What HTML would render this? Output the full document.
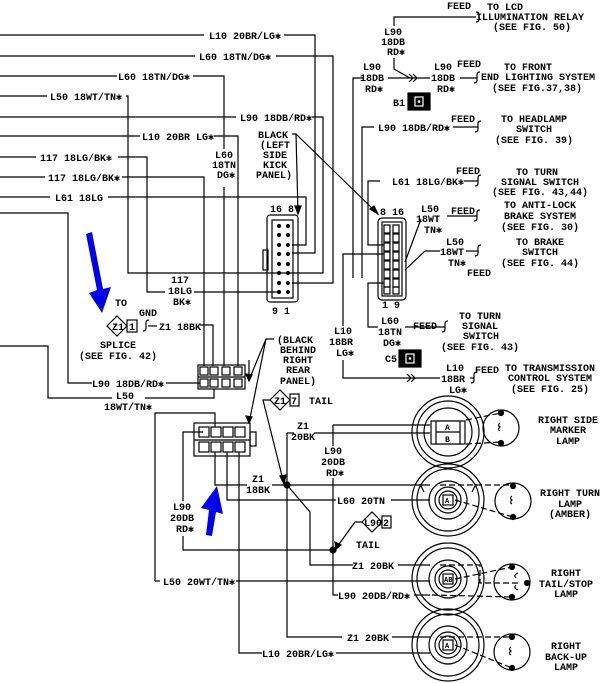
<!DOCTYPE html>
<html><head><meta charset="utf-8"><style>
body{margin:0;background:#fff}
svg{display:block}
text{font-family:"Liberation Mono",monospace;font-size:10px;font-weight:bold;fill:#000}
.c{text-anchor:middle}
line,polyline,path,rect,circle{stroke:#000;stroke-width:1.2;fill:none}
.f{fill:#000}
.w{stroke:#fff;fill:none}
.wf{fill:#fff;stroke:none}
</style></head><body>
<svg width="604" height="683" viewBox="0 0 604 683" xmlns="http://www.w3.org/2000/svg">
<!-- top-left wires -->
<polyline points="0,35 204,35"/><text x="209" y="39">L10 20BR/LG✱</text><polyline points="284,35 315,35 315,253 292,253"/>
<polyline points="0,56 195,56"/><text x="199" y="60">L60 18TN/DG✱</text><polyline points="276,56 333,56 333,283 292,283"/>
<polyline points="0,76 117,76"/><text x="118" y="80">L60 18TN/DG✱</text><polyline points="193,76 224,76 224,149"/>
<text class="c" x="224" y="158">L60</text><text class="c" x="224" y="168">18TN</text><text class="c" x="226" y="178">DG✱</text>
<polyline points="224,187 224,366"/>
<polyline points="0,96 47,96"/><text x="50" y="100">L50 18WT/TN✱</text><polyline points="126,96 128,96 128,273 292,273"/>
<polyline points="0,117 236,117"/><text x="240" y="121">L90 18DB/RD✱</text><polyline points="312,117 323,117 323,273 292,273"/>
<polyline points="0,136 140,136"/><text x="142" y="140">L10 20BR LG✱</text><polyline points="214,136 238,136 238,366"/>
<polyline points="0,157 36,157"/><text x="40" y="161">117 18LG/BK✱</text><polyline points="118,157 147,157 147,292 165,292"/>
<text class="c" x="180" y="283">117</text><text class="c" x="180" y="294">18LG</text><text class="c" x="182" y="305">BK✱</text>
<polyline points="194,292 280,292"/>
<polyline points="0,177 45,177"/><text x="48" y="181">117 18LG/BK✱</text><polyline points="122,177 204,177 204,366"/>
<polyline points="0,197 50,197"/><text x="55" y="201">L61 18LG</text><polyline points="108,197 306,197 306,245 292,245"/>
<polyline points="0,213 68,213 68,383 92,383"/><text x="92" y="387">L90 18DB/RD✱</text><polyline points="166,383 200,383"/>
<polyline points="0,346 48,346 48,398 112,398"/><text class="c" x="125" y="399">L50</text><text class="c" x="128" y="410">18WT/TN✱</text><polyline points="145,398 214,398 214,389"/>
<!-- left connector -->
<rect x="267" y="215" width="31" height="87" rx="3"/><rect x="272" y="220" width="21" height="78"/>
<rect x="263" y="250" width="5" height="20"/>
<text x="270" y="212">16 8</text><text x="272" y="314">9 1</text>
<g>
<circle class="f" cx="279" cy="226" r="1.5"/><circle class="f" cx="288" cy="226" r="1.5"/>
<circle class="f" cx="279" cy="235" r="1.5"/><circle class="f" cx="288" cy="235" r="1.5"/>
<circle class="f" cx="279" cy="245" r="1.5"/><circle class="f" cx="288" cy="245" r="1.5"/>
<circle class="f" cx="279" cy="254" r="1.5"/><circle class="f" cx="288" cy="254" r="1.5"/>
<circle class="f" cx="279" cy="264" r="1.5"/><circle class="f" cx="288" cy="264" r="1.5"/>
<circle class="f" cx="279" cy="273" r="1.5"/><circle class="f" cx="288" cy="273" r="1.5"/>
<circle class="f" cx="279" cy="283" r="1.5"/><circle class="f" cx="288" cy="283" r="1.5"/>
<circle class="f" cx="279" cy="292" r="1.5"/><circle class="f" cx="288" cy="292" r="1.5"/>
</g>
<text x="258" y="138">BLACK</text><text x="260" y="148">(LEFT</text><text x="263" y="158">SIDE</text><text x="263" y="168">KICK</text><text x="256" y="178">PANEL)</text>
<polyline points="292,134 296,134 298,213"/><path class="f" d="M295,206 L298,214 L301,206Z"/>
<polyline points="296,134 376,212"/><path class="f" d="M370,209 L378,214 L374,206Z"/>
<!-- right connector -->
<rect x="378" y="218" width="28" height="82" rx="4"/><rect x="382" y="222" width="20" height="74"/>
<text x="380" y="215">8 16</text><text x="382" y="308">1 9</text>
<g>
<rect x="384" y="225" width="6" height="8"/><rect x="393" y="225" width="6" height="8"/>
<rect x="384" y="234" width="6" height="8"/><rect x="393" y="234" width="6" height="8"/>
<rect x="384" y="243" width="6" height="8"/><rect x="393" y="243" width="6" height="8"/>
<rect x="384" y="252" width="6" height="8"/><rect x="393" y="252" width="6" height="8"/>
<rect x="384" y="261" width="6" height="8"/><rect x="393" y="261" width="6" height="8"/>
<rect x="384" y="270" width="6" height="8"/><rect x="393" y="270" width="6" height="8"/>
<rect x="384" y="279" width="6" height="8"/><rect x="393" y="279" width="6" height="8"/>
<rect x="384" y="287" width="6" height="7"/><rect x="393" y="287" width="6" height="7"/>
</g>
<!-- right side feeds -->
<text x="447" y="9">FEED</text><text x="487" y="10">TO LCD</text><text class="c" x="530" y="20">ILLUMINATION RELAY</text><text class="c" x="532" y="30">(SEE FIG. 50)</text>
<polyline points="394,26 394,17 476,17"/><path d="M476,12 q3,0 3,3 v4 q0,3 -3,3"/>
<text class="c" x="393" y="35">L90</text><text class="c" x="393" y="45">18DB</text><text class="c" x="396" y="55">RD✱</text>
<polyline points="394,58 394,69 410,78"/>
<text class="c" x="372" y="70">L90</text><text class="c" x="372" y="81">18DB</text><text class="c" x="374" y="92">RD✱</text>
<polyline points="353,278 353,78 364,78"/><polyline points="388,78 430,78"/><path d="M409,74 L413,78 L409,82 M413,74 L417,78 L413,82"/>
<text class="c" x="443" y="70">L90</text><text class="c" x="443" y="81">18DB</text><text class="c" x="446" y="92">RD✱</text>
<polyline points="460,78 477,78"/><path d="M480,72 q-3,0 -3,3 v5 q0,3 -3,3"/>
<text x="457" y="67">FEED</text><text class="c" x="528" y="70">TO FRONT</text><text class="c" x="538" y="80">END LIGHTING SYSTEM</text><text class="c" x="537" y="91">(SEE FIG.37,38)</text>
<text x="393" y="106">B1</text><rect class="f" x="408" y="93" width="22" height="17"/><rect class="w" x="415" y="97" width="8" height="9"/><circle class="wf" cx="419" cy="101.5" r="1.3"/>
<polyline points="362,278 362,127 374,127"/><text x="378" y="131">L90 18DB/RD✱</text><polyline points="453,127 478,127"/><path d="M481,121 q-3,0 -3,3 v5 q0,3 -3,3"/>
<text x="451" y="122">FEED</text><text class="c" x="534" y="122">TO HEADLAMP</text><text class="c" x="534" y="132">SWITCH</text><text class="c" x="534" y="143">(SEE FIG. 39)</text>
<polyline points="384,245 368,245 368,181 380,181"/><text x="392" y="185">L61 18LG/BK✱</text><polyline points="464,181 478,181"/><path d="M481,175 q-3,0 -3,3 v5 q0,3 -3,3"/>
<text x="456" y="174">FEED</text><text class="c" x="537" y="175">TO TURN</text><text class="c" x="540" y="185">SIGNAL SWITCH</text><text class="c" x="540" y="195">(SEE FIG. 43,44)</text>
<text class="c" x="430" y="212">L50</text><text class="c" x="428" y="222">18WT</text><text class="c" x="433" y="233">TN✱</text>
<polyline points="447,216 477,216"/><path d="M480,210 q-3,0 -3,3 v5 q0,3 -3,3"/><polyline points="421,219 405,262"/>
<text x="451" y="214">FEED</text><text class="c" x="540" y="208">TO ANTI-LOCK</text><text class="c" x="540" y="219">BRAKE SYSTEM</text><text class="c" x="540" y="230">(SEE FIG. 30)</text>
<text class="c" x="455" y="245">L50</text><text class="c" x="452" y="255">18WT</text><text class="c" x="457" y="266">TN✱</text>
<polyline points="466,251 478,251"/><path d="M481,245 q-3,0 -3,3 v5 q0,3 -3,3"/><polyline points="440,251 425,251 405,270"/>
<text x="467" y="276">FEED</text><text class="c" x="540" y="245">TO BRAKE</text><text class="c" x="540" y="255">SWITCH</text><text class="c" x="540" y="266">(SEE FIG. 44)</text>
<polyline points="384,283 368,283 368,327 378,327"/><text class="c" x="390" y="324">L60</text><text class="c" x="390" y="335">18TN</text><text class="c" x="392" y="346">DG✱</text>
<polyline points="405,327 445,327"/><path d="M448,321 q-3,0 -3,3 v5 q0,3 -3,3"/><text x="413" y="329">FEED</text>
<text class="c" x="480" y="319">TO TURN</text><text class="c" x="480" y="329">SIGNAL</text><text class="c" x="481" y="339">SWITCH</text><text class="c" x="480" y="350">(SEE FIG. 43)</text>
<text x="385" y="362">C5</text><rect class="f" x="399" y="350" width="22" height="17"/><rect class="w" x="406" y="354" width="8" height="9"/><circle class="wf" cx="410" cy="358.5" r="1.3"/>
<polyline points="384,254 343,254 343,326"/><text class="c" x="343" y="334">L10</text><text class="c" x="341" y="345">18BR</text><text class="c" x="345" y="356">LG✱</text>
<polyline points="343,360 343,378 440,378"/><path d="M407,374 L411,378 L407,382 M411,374 L415,378 L411,382"/>
<text class="c" x="455" y="371">L10</text><text class="c" x="453" y="382">18BR</text><text class="c" x="458" y="393">LG✱</text>
<polyline points="470,378 474,378"/><path d="M477,372 q-3,0 -3,3 v5 q0,3 -3,3"/><text x="475" y="373">FEED</text>
<text class="c" x="550" y="371">TO TRANSMISSION</text><text class="c" x="550" y="381">CONTROL SYSTEM</text><text class="c" x="550" y="392">(SEE FIG. 25)</text>
<!-- splice -->
<text x="115" y="306">TO</text><text x="139" y="316">GND</text>
<path d="M107,326 L117,316 L127,326 L117,336Z"/><text x="112" y="330">Z1</text><rect x="127" y="320" width="10" height="12"/><text x="129" y="330">1</text>
<path d="M149,320 q-3,0 -3,3 v5 q0,3 -3,3"/><polyline points="148,326 157,326"/><text x="159" y="330">Z1 18BK</text><polyline points="200,325 213,325 213,366"/>
<text class="c" x="118" y="348">SPLICE</text><text class="c" x="118" y="359">(SEE FIG. 42)</text>
<!-- connector A -->
<rect x="198" y="365" width="47" height="24"/><line x1="198" y1="377" x2="245" y2="377"/>
<rect x="200" y="367" width="8" height="8"/><rect x="210" y="367" width="8" height="8"/><rect x="222" y="367" width="8" height="8"/><rect x="234" y="367" width="8" height="8"/>
<rect x="200" y="379" width="8" height="8"/><rect x="210" y="379" width="8" height="8"/><rect x="222" y="379" width="8" height="8"/><rect x="234" y="379" width="8" height="8"/>
<polyline points="245,375 249,375 249,360"/>
<text x="277" y="343">(BLACK</text><text x="280" y="353">BEHIND</text><text x="283" y="363">RIGHT</text><text x="286" y="373">REAR</text><text x="280" y="384">PANEL)</text>
<polyline points="274,339 266,339 249,380"/><polyline points="266,339 249,423"/>
<path class="f" d="M246,374 L249,381 L252,375Z"/><path class="f" d="M246,416 L249,423 L252,417Z"/>
<!-- connector B -->
<rect x="194" y="423" width="56" height="33"/><line x1="194" y1="440" x2="250" y2="440"/><rect x="250" y="432" width="6" height="14"/>
<rect x="199" y="427" width="10" height="10"/><rect x="211" y="427" width="10" height="10"/><rect x="223" y="427" width="10" height="10"/><rect x="235" y="427" width="10" height="10"/>
<rect x="199" y="442" width="10" height="10"/><rect x="211" y="442" width="10" height="10"/><rect x="223" y="442" width="10" height="10"/><rect x="235" y="442" width="10" height="10"/>
<polyline points="155,581 155,413 215,413 215,427"/>
<polyline points="203,432 183,432 183,501"/><text class="c" x="182" y="510">L90</text><text class="c" x="182" y="521">20DB</text><text class="c" x="185" y="532">RD✱</text><polyline points="183,536 183,550 333,550"/>
<polyline points="215,452 215,485 247,485"/><text class="c" x="258" y="482">Z1</text><text class="c" x="258" y="493">18BK</text><polyline points="272,485 430,485"/>
<polyline points="227,452 227,500 336,500"/><text x="337" y="504">L60 20TN</text><polyline points="391,500 430,500"/>
<polyline points="239,452 239,653 262,653"/><text x="262" y="657">L10 20BR/LG✱</text><polyline points="336,653 430,653"/>
<text x="163" y="585">L50 20WT/TN✱</text><polyline points="155,581 160,581"/><polyline points="236,581 430,581"/>
<!-- Z1 7 tail -->
<path d="M270,400 L280,390 L290,400 L280,410Z"/><text x="274" y="404">Z1</text><rect x="290" y="394" width="9" height="12"/><text x="291" y="404">7</text><text x="309" y="404">TAIL</text>
<polyline points="270,400 263,400 283,480"/><path class="f" d="M280,476 L284,484 L286,475Z"/>
<circle class="f" cx="287" cy="485" r="3"/>
<polyline points="287,433 287,637 342,637"/><polyline points="287,433 294,433"/><text class="c" x="303" y="429">Z1</text><text class="c" x="303" y="440">20BK</text><polyline points="314,433 430,433"/>
<polyline points="287,485 310,512 310,565 353,565"/><text x="352" y="569">Z1 20BK</text><polyline points="398,565 430,565"/>
<text x="347" y="641">Z1 20BK</text><polyline points="392,637 430,637"/>
<polyline points="333,425 430,425"/><polyline points="333,425 333,446"/><text class="c" x="333" y="454">L90</text><text class="c" x="333" y="465">20DB</text><text class="c" x="335" y="476">RD✱</text><polyline points="333,478 333,595 338,595"/>
<text x="338" y="599">L90 20DB/RD✱</text><polyline points="414,595 430,595"/>
<circle class="f" cx="333" cy="550" r="3"/>
<path d="M362,522 L372,512 L382,522 L372,532Z"/><text x="364" y="526">L90</text><rect x="382" y="516" width="9" height="12"/><text x="383" y="526">2</text><text x="356" y="548">TAIL</text>
<polyline points="362,522 355,522 337,547"/><path class="f" d="M335,542 L336,549 L341,545Z"/>
<!-- lamps -->
<g>
<circle cx="448" cy="432" r="36"/><circle cx="448" cy="432" r="31"/><circle cx="448" cy="432" r="24"/>
<rect x="431" y="421" width="34" height="23"/><rect x="436" y="421" width="24" height="23" style="fill:#fff"/><line x1="436" y1="432" x2="460" y2="432"/>
<text x="445" y="430" style="font-size:8px">A</text><text x="445" y="442" style="font-size:8px">B</text>
<line x1="466" y1="420" x2="501" y2="413" stroke-dasharray="6,3"/><line x1="466" y1="444" x2="501" y2="442" stroke-dasharray="6,3"/>
<circle cx="501" cy="428" r="18"/><circle class="f" cx="501" cy="413" r="2.5"/><circle class="f" cx="501" cy="443" r="2.5"/>
<path d="M500,423 q-3,2 0,4 q-3,2 0,4" />
</g>
<g>
<circle cx="448" cy="500" r="36"/><circle cx="448" cy="500" r="31"/><circle cx="448" cy="500" r="19"/><circle cx="448" cy="500" r="13"/><circle cx="448" cy="500" r="9"/>
<rect x="443" y="495" width="10" height="10"/><text x="445" y="503" style="font-size:7px">A</text>
<path d="M420,484 L424,492 M476,484 L472,492"/>
</g>
<line x1="440" y1="485" x2="513" y2="485" stroke-dasharray="6,3"/><line x1="455" y1="500" x2="513" y2="517" stroke-dasharray="6,3"/>
<circle cx="513" cy="501" r="18"/><circle class="f" cx="513" cy="486" r="2.5"/><circle class="f" cx="513" cy="517" r="2.5"/><path d="M512,496 q-3,2 0,4 q-3,2 0,4"/>
<circle cx="448" cy="579" r="36"/><circle cx="448" cy="579" r="31"/><circle cx="448" cy="579" r="19"/><circle cx="448" cy="579" r="13"/><circle cx="448" cy="579" r="9"/>
<rect x="443" y="574" width="10" height="10"/><text x="444" y="582" style="font-size:7px">AB</text>
<polyline points="440,565 480,565 480,583 520,583" stroke-dasharray="6,3"/><line x1="455" y1="579" x2="512" y2="567" stroke-dasharray="6,3"/><line x1="432" y1="595" x2="512" y2="597" stroke-dasharray="6,3"/>
<circle cx="512" cy="582" r="18"/><circle class="f" cx="512" cy="567" r="2.5"/><circle class="f" cx="512" cy="597" r="2.5"/><circle class="f" cx="527" cy="583" r="2.5"/>
<path d="M518,573 q-5,2 -2,5 M518,590 q-5,-2 -2,-5"/>
<circle cx="448" cy="645" r="36"/><circle cx="448" cy="645" r="31"/><circle cx="448" cy="645" r="19"/><circle cx="448" cy="645" r="13"/><circle cx="448" cy="645" r="9"/>
<rect x="443" y="640" width="10" height="10"/><text x="445" y="648" style="font-size:7px">A</text>
<line x1="440" y1="637" x2="512" y2="637" stroke-dasharray="6,3"/><line x1="455" y1="645" x2="512" y2="668" stroke-dasharray="6,3"/>
<circle cx="512" cy="652" r="18"/><circle class="f" cx="512" cy="637" r="2.5"/><circle class="f" cx="512" cy="668" r="2.5"/><path d="M511,647 q-3,2 0,4 q-3,2 0,4"/>
<text class="c" x="568" y="423">RIGHT SIDE</text><text class="c" x="568" y="433">MARKER</text><text class="c" x="568" y="444">LAMP</text>
<text class="c" x="570" y="496">RIGHT TURN</text><text class="c" x="570" y="507">LAMP</text><text class="c" x="570" y="517">(AMBER)</text>
<text class="c" x="566" y="576">RIGHT</text><text class="c" x="566" y="587">TAIL/STOP</text><text class="c" x="566" y="597">LAMP</text>
<text class="c" x="566" y="649">RIGHT</text><text class="c" x="566" y="660">BACK-UP</text><text class="c" x="566" y="670">LAMP</text>
<!-- blue arrows -->
<polygon points="86,234 92,232 103,289 111,287 102,313 89,293 97,290" style="fill:#0000ee;stroke:none"/>
<polygon points="206,535 212,536 216,512 223,514 217,486 201,508 209,510" style="fill:#0000ee;stroke:none"/>
</svg>
</body></html>
